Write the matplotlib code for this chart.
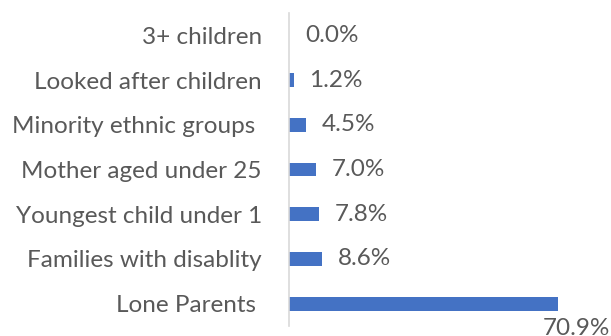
import matplotlib
matplotlib.use("Agg")
import matplotlib.pyplot as plt

categories = ["Lone Parents ", "Families with disablity", "Youngest child under 1",
              "Mother aged under 25", "Minority ethnic groups ", "Looked after children",
              "3+ children"]
values = [70.9, 8.6, 7.8, 7.0, 4.5, 1.2, 0.0]

W, H, DPI = 611, 336, 100
fig = plt.figure(figsize=(W / DPI, H / DPI), dpi=DPI)
plt.rcParams['font.family'] = ['Lato', 'DejaVu Sans']

ax_left, ax_right = 289, 592
ax_top, ax_bottom = 13, 326
ax = fig.add_axes([ax_left / W, 1 - ax_bottom / H, (ax_right - ax_left) / W, (ax_bottom - ax_top) / H])

bar_color = "#4472C4"
text_color = "#595959"
fs = 17.5

y = list(range(len(categories)))
bars = ax.barh(y, values, height=0.31, color=bar_color)
ax.set_xlim(0, 80)
ax.set_ylim(-0.5, len(categories) - 0.5)
ax.set_yticks(y)
ax.set_yticklabels(categories, fontsize=fs, color=text_color)
ax.tick_params(axis='y', length=0, pad=19.5)
ax.set_xticks([])
for s in ["top", "right", "bottom"]:
    ax.spines[s].set_visible(False)
ax.spines["left"].set_color("#d9d9d9")
ax.spines["left"].set_linewidth(1.2)

px = 72 / DPI
for yi, v in zip(y, values):
    if v > 50:
        ax.annotate(f"{v:.1f}%", xy=(v, yi), xytext=(-15 * px, -14 * px),
                    textcoords="offset points", ha="left", va="top",
                    fontsize=fs, color=text_color, annotation_clip=False)
    else:
        ax.annotate(f"{v:.1f}%", xy=(v, yi), xytext=(16 * px, 0),
                    textcoords="offset points", ha="left", va="center",
                    fontsize=fs, color=text_color)

fig.savefig("out.png", dpi=DPI)
